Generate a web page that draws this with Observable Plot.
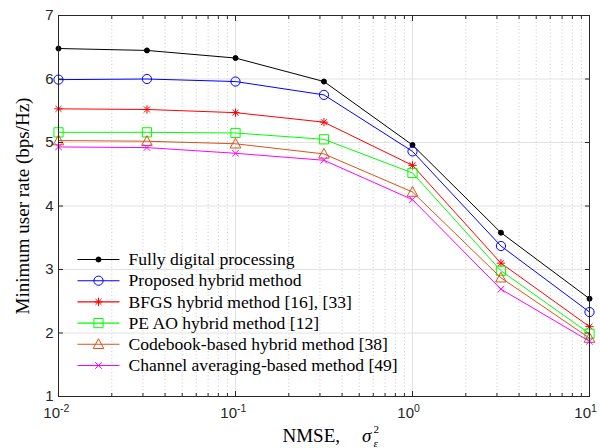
<!DOCTYPE html>
<html>
<head>
<meta charset="utf-8">
<script src="https://cdn.jsdelivr.net/npm/d3@7"></script>
<script src="https://cdn.jsdelivr.net/npm/@observablehq/plot@0.6"></script>
<style>
  html, body { margin: 0; padding: 0; background: #ffffff; }
  #chart svg { display: block; }
</style>
</head>
<body>
<div id="chart"></div>
<script>
// ---- data ----
const nmse = [0.01, 0.0316, 0.1, 0.316, 1, 3.16, 10];
const fullyDigital     = [6.48, 6.45, 6.33, 5.96, 4.96, 3.58, 2.54];
const proposedHybrid   = [5.99, 6.00, 5.96, 5.75, 4.86, 3.37, 2.33];
const bfgsHybrid       = [5.53, 5.52, 5.47, 5.32, 4.64, 3.10, 2.10];
const peAoHybrid       = [5.16, 5.16, 5.15, 5.05, 4.52, 2.98, 1.99];
const codebookHybrid   = [5.03, 5.02, 4.98, 4.82, 4.22, 2.87, 1.92];
const channelAveraging = [4.93, 4.92, 4.83, 4.72, 4.10, 2.69, 1.87];
const seriesNames = [
  "Fully digital processing",
  "Proposed hybrid method",
  "BFGS hybrid method [16], [33]",
  "PE AO hybrid method [12]",
  "Codebook-based hybrid method [38]",
  "Channel averaging-based method [49]"
];
const xTickValues = [0.01, 0.1, 1, 10];
const xTickBase = "10";
const xTickExponents = ["-2", "-1", "0", "1"];
const yTickValues = [1, 2, 3, 4, 5, 6, 7];
const xLabelMain = "NMSE,";
const xLabelVar = "σ";
const xLabelSub = "ε";
const xLabelSup = "2";
const yLabel = "Minimum user rate (bps/Hz)";

// ---- styles ----
const serif = "'Liberation Serif', 'Times New Roman', serif";
const sans = "'Liberation Sans', Arial, Helvetica, sans-serif";
const axisColor = "#262626";

function rOf(size) { return Math.sqrt(size / Math.PI); }
const symAsterisk = { draw(ctx, size) { const r = rOf(size), d = r * Math.SQRT1_2;
  ctx.moveTo(-r, 0); ctx.lineTo(r, 0); ctx.moveTo(0, -r); ctx.lineTo(0, r);
  ctx.moveTo(-d, -d); ctx.lineTo(d, d); ctx.moveTo(-d, d); ctx.lineTo(d, -d); } };
const symSquare = { draw(ctx, size) { const r = rOf(size); ctx.rect(-r, -r, 2 * r, 2 * r); } };
const symTriangle = { draw(ctx, size) { const r = rOf(size);
  ctx.moveTo(0, -r * 1.05); ctx.lineTo(r, r * 0.8); ctx.lineTo(-r, r * 0.8); ctx.closePath(); } };
const symTimes = { draw(ctx, size) { const r = rOf(size);
  ctx.moveTo(-r, -r); ctx.lineTo(r, r); ctx.moveTo(-r, r); ctx.lineTo(r, -r); } };
const symLegendLine = { draw(ctx, size) { ctx.moveTo(-21, 0); ctx.lineTo(21, 0); } };

const seriesValues = [fullyDigital, proposedHybrid, bfgsHybrid, peAoHybrid, codebookHybrid, channelAveraging];
const seriesStyle = [
  { color: "#000000", symbol: "circle", r: 2.5, filled: true },
  { color: "#0000ff", symbol: "circle", r: 4.6, filled: false },
  { color: "#ff0000", symbol: symAsterisk, r: 4.2, filled: false },
  { color: "#00ff00", symbol: symSquare, r: 4.6, filled: false },
  { color: "#d95319", symbol: symTriangle, r: 5.3, filled: false },
  { color: "#ff00ff", symbol: symTimes, r: 3.3, filled: false }
];

const table = seriesNames.flatMap((name, s) =>
  nmse.map((x, i) => ({ series: name, x, y: seriesValues[s][i] })));

// minor log ticks
const minorTicks = [];
for (let k = -2; k < 1; k++) for (let m = 2; m <= 9; m++) minorTicks.push(m * Math.pow(10, k));

const marks = [];
// grid
marks.push(Plot.ruleX(minorTicks, { x: d => d, stroke: "#bdbdbd", strokeWidth: 0.8, strokeDasharray: "1,2.5" }));
marks.push(Plot.ruleX([0.1, 1], { x: d => d, stroke: "#e2e2e2", strokeWidth: 1 }));
marks.push(Plot.ruleY([2, 3, 4, 5, 6], { y: d => d, stroke: "#e2e2e2", strokeWidth: 1 }));

// series lines and markers
seriesNames.forEach((name, s) => {
  const st = seriesStyle[s];
  const rows = table.filter(d => d.series === name);
  marks.push(Plot.line(rows, { x: "x", y: "y", stroke: st.color, strokeWidth: 1 }));
  marks.push(Plot.dot(rows, { x: "x", y: "y", symbol: st.symbol, r: st.r,
    stroke: st.color, fill: st.filled ? st.color : "none", strokeWidth: 1 }));
});

// legend (inside axes, lower-left)
const legendTop = 244;   // offset from frame top to first row center
const legendStep = 21.2;
seriesNames.forEach((name, s) => {
  const st = seriesStyle[s];
  const dy = legendTop + legendStep * s;
  marks.push(Plot.dot([0], { frameAnchor: "top-left", dx: 40, dy, symbol: symLegendLine, r: 5,
    stroke: st.color, fill: "none", strokeWidth: 1.1 }));
  marks.push(Plot.dot([0], { frameAnchor: "top-left", dx: 40, dy, symbol: st.symbol, r: st.r,
    stroke: st.color, fill: st.filled ? st.color : "none", strokeWidth: 1 }));
  marks.push(Plot.text([name], { frameAnchor: "top-left", dx: 70, dy, text: d => d,
    textAnchor: "start", lineAnchor: "middle", fontFamily: serif, fontSize: 17.6, fill: "#000" }));
});

// frame and inward ticks
marks.push(Plot.frame({ stroke: axisColor, strokeWidth: 1 }));
for (const anchor of ["bottom", "top"]) {
  marks.push(Plot.axisX({ anchor, ticks: xTickValues, tickSize: -5, tickFormat: () => "", stroke: axisColor, label: null }));
  marks.push(Plot.axisX({ anchor, ticks: minorTicks, tickSize: -3, tickFormat: () => "", stroke: axisColor, label: null }));
}
for (const anchor of ["left", "right"]) {
  marks.push(Plot.axisY({ anchor, ticks: yTickValues, tickSize: -5, tickFormat: () => "", stroke: axisColor, label: null }));
}
// y tick labels
marks.push(Plot.axisY({ anchor: "left", ticks: yTickValues, tickSize: 0, tickPadding: 5, tickFormat: d => String(d),
  fontFamily: sans, fontSize: 15, fill: axisColor, label: null }));
// x tick labels: base and exponent
marks.push(Plot.text(xTickValues, { x: d => d, frameAnchor: "bottom", dy: 21, dx: 1.5, textAnchor: "end",
  text: () => xTickBase, fontFamily: sans, fontSize: 15, fill: axisColor }));
marks.push(Plot.text(xTickValues, { x: d => d, frameAnchor: "bottom", dy: 15, dx: 1.5, textAnchor: "start",
  text: (d, i) => xTickExponents[i], fontFamily: sans, fontSize: 10.5, fill: axisColor }));
// y label
marks.push(Plot.text([yLabel], { frameAnchor: "left", dx: -36, rotate: -90, text: d => d,
  textAnchor: "middle", lineAnchor: "middle", fontFamily: serif, fontSize: 19, fill: "#000" }));

const chart = Plot.plot({
  width: 600,
  height: 448,
  marginLeft: 58,
  marginRight: 11,
  marginTop: 15,
  marginBottom: 52,
  style: { background: "#ffffff", overflow: "visible" },
  x: { type: "log", domain: [0.01, 10], axis: null },
  y: { domain: [1, 7], axis: null },
  marks
});
document.getElementById("chart").appendChild(chart);

// x label with stacked sub/superscript
const svg = d3.select(chart);
const cx = 58 + (600 - 58 - 11) / 2;
const baseY = 442;
const g = svg.append("g").attr("font-family", serif).attr("fill", "#000").attr("text-anchor", "start");
const main = g.append("text").attr("y", baseY).attr("font-size", 19).text(xLabelMain);
const sigma = g.append("text").attr("y", baseY).attr("font-size", 19).attr("font-style", "italic").text(xLabelVar);
const sub = g.append("text").attr("y", baseY + 5).attr("font-size", 11).attr("font-style", "italic").text(xLabelSub);
const sup = g.append("text").attr("y", baseY - 9).attr("font-size", 11).text(xLabelSup);
const wMain = main.node().getComputedTextLength();
const wSigma = sigma.node().getComputedTextLength();
const gap = 22;
const x0 = cx - 41;
main.attr("x", x0);
sigma.attr("x", x0 + wMain + gap);
sub.attr("x", x0 + wMain + gap + wSigma + 2);
sup.attr("x", x0 + wMain + gap + wSigma + 2);
</script>
</body>
</html>
